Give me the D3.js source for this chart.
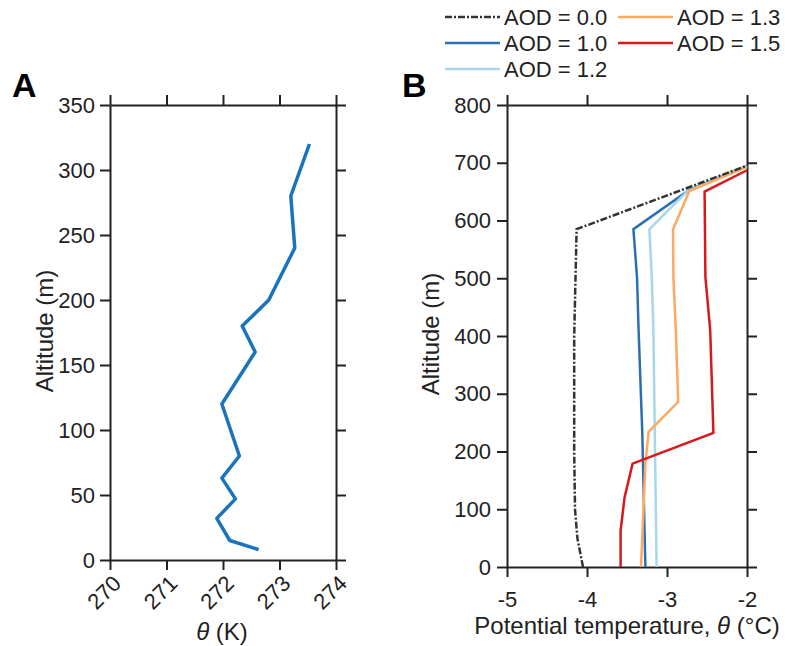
<!DOCTYPE html>
<html>
<head>
<meta charset="utf-8">
<script src="https://cdn.jsdelivr.net/npm/d3@7"></script>
<style>
  body { margin: 0; background: #fff; }
  svg { font-family: "Liberation Sans", Arial, sans-serif; }
  .axis path, .axis line { stroke: #222; stroke-width: 2; }
  .axis text { fill: #222; font-size: 22px; }
</style>
</head>
<body>
<div id="chart"></div>
<script>
// panel A: observed profile
var thetaK = [272.63, 272.12, 271.89, 272.22, 271.98, 272.29, 271.98, 272.57, 272.34, 272.81, 273.27, 273.2, 273.53];
var altA   = [8, 15, 32, 47, 63, 80, 120, 160, 180, 200, 240, 280, 320];
var xTicksA = [270, 271, 272, 273, 274];
var yTicksA = [0, 50, 100, 150, 200, 250, 300, 350];

// panel B: simulated profiles
var aodLabels = ["AOD = 0.0", "AOD = 1.0", "AOD = 1.2", "AOD = 1.3", "AOD = 1.5"];
var aodColors = ["#333333", "#2b6fb3", "#a6d7eb", "#fcaa62", "#d7191c"];
var alt00 = [0, 50, 100, 200, 400, 585, 695];
var t00   = [-4.05, -4.12, -4.15, -4.16, -4.16, -4.13, -2.0];
var alt10 = [0, 237, 410, 502, 585, 652, 695];
var t10   = [-3.27, -3.31, -3.355, -3.375, -3.42, -2.73, -2.0];
var alt12 = [0, 410, 500, 585, 650, 695];
var t12   = [-3.13, -3.17, -3.19, -3.22, -2.75, -2.0];
var alt13 = [0, 179, 234, 286, 410, 502, 585, 651, 693];
var t13   = [-3.325, -3.27, -3.23, -2.86, -2.89, -2.92, -2.925, -2.72, -2.0];
var alt15 = [0, 63, 121, 179, 232, 410, 502, 650, 687];
var t15   = [-3.58, -3.58, -3.53, -3.43, -2.42, -2.46, -2.52, -2.53, -2.0];
var xTicksB = [-5, -4, -3, -2];
var yTicksB = [0, 100, 200, 300, 400, 500, 600, 700, 800];

var fmt = function(d) { return String(d); };
var TICK = 10;

var svg = d3.select("#chart").append("svg")
    .attr("width", 785)
    .attr("height", 646);

// ---------- panel A ----------
var xA = d3.scaleLinear().domain([270, 274]).range([110, 336]);
var yA = d3.scaleLinear().domain([0, 350]).range([560, 105]);

svg.append("g").attr("class", "axis")
    .attr("transform", "translate(0,560)")
    .call(d3.axisBottom(xA).tickValues(xTicksA).tickFormat(fmt).tickSize(TICK).tickSizeOuter(0))
  .selectAll("text")
    .attr("text-anchor", "end")
    .attr("x", -9)
    .attr("y", 26)
    .attr("dy", 0)
    .attr("transform", "rotate(-45)");
svg.append("g").attr("class", "axis")
    .attr("transform", "translate(0,105)")
    .call(d3.axisTop(xA).tickValues(xTicksA).tickSize(TICK).tickSizeOuter(0).tickFormat(""));
svg.append("g").attr("class", "axis")
    .attr("transform", "translate(110,0)")
    .call(d3.axisLeft(yA).tickValues(yTicksA).tickFormat(fmt).tickSize(TICK).tickSizeOuter(0).tickPadding(5));
svg.append("g").attr("class", "axis")
    .attr("transform", "translate(336,0)")
    .call(d3.axisRight(yA).tickValues(yTicksA).tickSize(TICK).tickSizeOuter(0).tickFormat(""));

svg.append("path")
    .datum(d3.zip(thetaK, altA))
    .attr("fill", "none")
    .attr("stroke", "#1a74bd")
    .attr("stroke-width", 3.5)
    .attr("stroke-linejoin", "round")
    .attr("d", d3.line().x(function(d) { return xA(d[0]); }).y(function(d) { return yA(d[1]); }));

svg.append("text")
    .attr("x", 12).attr("y", 97)
    .style("font-size", "34px").style("font-weight", "bold")
    .text("A");
svg.append("text")
    .attr("transform", "translate(53,331) rotate(-90)")
    .attr("text-anchor", "middle")
    .style("font-size", "24px").attr("fill", "#222")
    .text("Altitude (m)");
var labA = svg.append("text")
    .attr("x", 222).attr("y", 640)
    .attr("text-anchor", "middle")
    .style("font-size", "24px").attr("fill", "#222");
labA.append("tspan").style("font-style", "italic").text("θ");
labA.append("tspan").text(" (K)");

// ---------- panel B ----------
var xB = d3.scaleLinear().domain([-5, -2]).range([507, 747]);
var yB = d3.scaleLinear().domain([0, 800]).range([567, 105]);

svg.append("g").attr("class", "axis")
    .attr("transform", "translate(0,567)")
    .call(d3.axisBottom(xB).tickValues(xTicksB).tickFormat(fmt).tickSize(TICK).tickSizeOuter(0).tickPadding(14));
svg.append("g").attr("class", "axis")
    .attr("transform", "translate(0,105)")
    .call(d3.axisTop(xB).tickValues(xTicksB).tickSize(TICK).tickSizeOuter(0).tickFormat(""));
svg.append("g").attr("class", "axis")
    .attr("transform", "translate(507,0)")
    .call(d3.axisLeft(yB).tickValues(yTicksB).tickFormat(fmt).tickSize(TICK).tickSizeOuter(0).tickPadding(6));
svg.append("g").attr("class", "axis")
    .attr("transform", "translate(747,0)")
    .call(d3.axisRight(yB).tickValues(yTicksB).tickSize(TICK).tickSizeOuter(0).tickFormat(""));

var seriesB = [
  { key: aodLabels[0], color: aodColors[0], t: t00, alt: alt00, dash: "7,2,2,2" },
  { key: aodLabels[1], color: aodColors[1], t: t10, alt: alt10, dash: null },
  { key: aodLabels[2], color: aodColors[2], t: t12, alt: alt12, dash: null },
  { key: aodLabels[3], color: aodColors[3], t: t13, alt: alt13, dash: null },
  { key: aodLabels[4], color: aodColors[4], t: t15, alt: alt15, dash: null }
];

var lineB = d3.line().x(function(d) { return xB(d[0]); }).y(function(d) { return yB(d[1]); });
svg.selectAll(".profB")
    .data(seriesB.slice(1).concat(seriesB.slice(0, 1)))
    .enter()
    .append("path")
    .attr("fill", "none")
    .attr("stroke", function(d) { return d.color; })
    .attr("stroke-width", 2.5)
    .attr("stroke-dasharray", function(d) { return d.dash; })
    .attr("d", function(d) { return lineB(d3.zip(d.t, d.alt)); });

svg.append("text")
    .attr("x", 402).attr("y", 97)
    .style("font-size", "34px").style("font-weight", "bold")
    .text("B");
svg.append("text")
    .attr("transform", "translate(439,334) rotate(-90)")
    .attr("text-anchor", "middle")
    .style("font-size", "24px").attr("fill", "#222")
    .text("Altitude (m)");
var labB = svg.append("text")
    .attr("x", 627).attr("y", 634)
    .attr("text-anchor", "middle")
    .style("font-size", "24px").attr("fill", "#222");
labB.append("tspan").text("Potential temperature, ");
labB.append("tspan").style("font-style", "italic").text("θ");
labB.append("tspan").text(" (°C)");

// legend: column-major, 3 rows
var legPos = [[445, 17], [445, 43], [445, 69], [618, 17], [618, 43]];
var leg = svg.selectAll(".leg")
    .data(seriesB)
    .enter()
    .append("g")
    .attr("transform", function(d, i) { return "translate(" + legPos[i][0] + "," + legPos[i][1] + ")"; });
leg.append("line")
    .attr("x1", 0).attr("x2", 55)
    .attr("stroke", function(d) { return d.color; })
    .attr("stroke-width", 2.5)
    .attr("stroke-dasharray", function(d) { return d.dash; });
leg.append("text")
    .attr("x", 59).attr("y", 8)
    .style("font-size", "22px").attr("fill", "#222")
    .text(function(d) { return d.key; });
</script>
</body>
</html>
